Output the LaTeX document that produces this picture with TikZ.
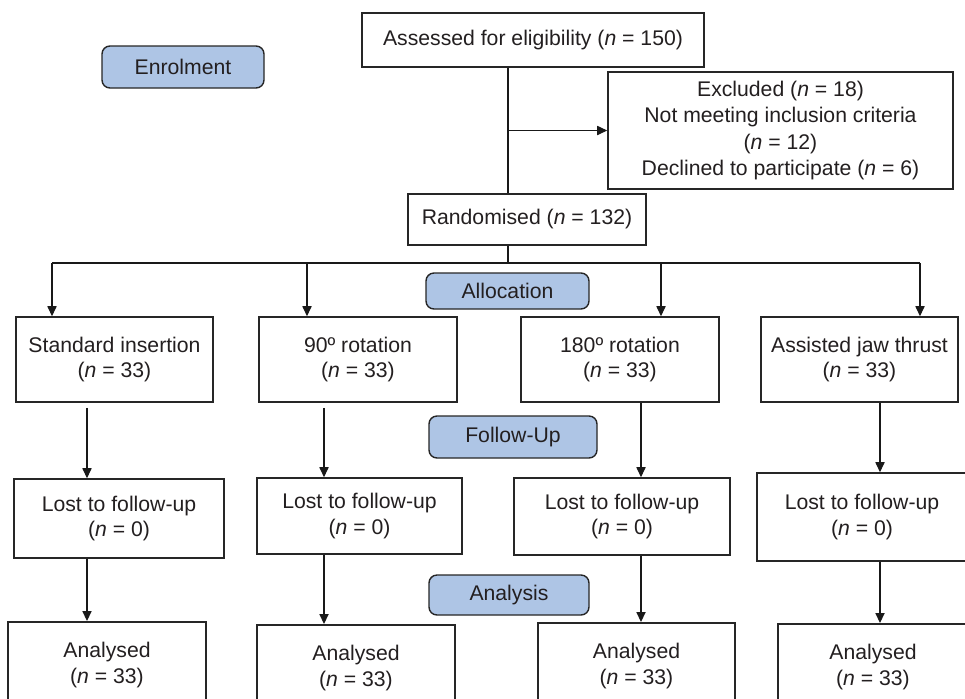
\documentclass[tikz,border=0pt]{standalone}
\usepackage{fontspec}
\setmainfont{Liberation Sans}
\usetikzlibrary{arrows.meta}
\definecolor{txtgray}{RGB}{35,31,32}
\definecolor{stagefill}{RGB}{174,197,229}

\begin{document}
\begin{tikzpicture}[x=0.5pt,y=-0.5pt,
  every node/.style={font=\fontsize{10.6}{12.8}\selectfont,text=txtgray},
  flowbox/.style={draw=black!85,line width=0.8pt,fill=white,align=center,inner sep=0pt},
  stage/.style={draw=black!85,line width=0.7pt,fill=stagefill,rounded corners=4pt,inner sep=0pt},
  link/.style={draw=black!90,line width=0.55pt},
  arr/.style={link,-{Triangle[length=5pt,width=4.6pt]}}]
\path[use as bounding box,clip] (0,0) rectangle (965,698);

\node[stage,minimum width=81pt,minimum height=21pt] (enrol) at (183,67) {Enrolment};
\node[stage,minimum width=81.5pt,minimum height=18pt] (alloc) at (507.5,291) {Allocation};
\node[stage,minimum width=84pt,minimum height=21pt] (follow) at (513,437) {Follow-Up};
\node[stage,minimum width=80pt,minimum height=20pt] (analysis) at (509,595) {Analysis};

\node[flowbox,minimum width=171pt,minimum height=27pt] (assess) at (533,40) {Assessed for eligibility (\textit{n} = 150)};
\node[flowbox,minimum width=172.5pt,minimum height=58.5pt,font=\fontsize{10.6}{13.3}\selectfont] (excl) at (780.5,130.5)
  {Excluded (\textit{n} = 18)\\ Not meeting inclusion criteria\\ (\textit{n} = 12)\\ Declined to participate (\textit{n} = 6)};
\node[flowbox,minimum width=119pt,minimum height=25.5pt] (rand) at (527,219.5) {Randomised (\textit{n} = 132)};

\node[flowbox,minimum width=98.5pt,minimum height=42.5pt] (top1) at (114.5,359.5) {Standard insertion\\ (\textit{n} = 33)};
\node[flowbox,minimum width=99pt,minimum height=42.5pt] (top2) at (358,359.5) {90º rotation\\ (\textit{n} = 33)};
\node[flowbox,minimum width=99pt,minimum height=42.5pt] (top3) at (620,359.5) {180º rotation\\ (\textit{n} = 33)};
\node[flowbox,minimum width=98.5pt,minimum height=42.5pt] (top4) at (859.5,359.5) {Assisted jaw thrust\\ (\textit{n} = 33)};

\node[flowbox,minimum width=105pt,minimum height=39.5pt] (lost1) at (119,518.5) {Lost to follow-up\\ (\textit{n} = 0)};
\node[flowbox,minimum width=102.5pt,minimum height=38pt] (lost2) at (359.5,516) {Lost to follow-up\\ (\textit{n} = 0)};
\node[flowbox,minimum width=108pt,minimum height=38.5pt] (lost3) at (622,516.5) {Lost to follow-up\\ (\textit{n} = 0)};
\node[flowbox,minimum width=105pt,minimum height=44pt] (lost4) at (862,517) {Lost to follow-up\\ (\textit{n} = 0)};

\node[flowbox,anchor=north,minimum width=99pt,minimum height=43pt] (done1) at (107,621) {Analysed\\ (\textit{n} = 33)};
\node[flowbox,anchor=north,minimum width=99pt,minimum height=43pt] (done2) at (356,624) {Analysed\\ (\textit{n} = 33)};
\node[flowbox,anchor=north,minimum width=98.5pt,minimum height=43pt] (done3) at (636.5,622) {Analysed\\ (\textit{n} = 33)};
\node[flowbox,anchor=north,minimum width=95pt,minimum height=43pt] (done4) at (873,623) {Analysed\\ (\textit{n} = 33)};

\coordinate (trunk) at (508,0);
\coordinate (split) at (508,263);
\draw[link] (assess.south -| trunk) -- (rand.north -| trunk);
\draw[arr] (excl.west -| trunk) -- (excl.west);
\draw[link] (rand.south -| trunk) -- (split);

\coordinate (b1) at (52,263);
\coordinate (b2) at (307,263);
\coordinate (b3) at (661,263);
\coordinate (b4) at (920,263);
\draw[link] (b1) -- (b4);
\foreach \c in {1,...,4}
  \draw[arr] (b\c) -- (top\c.north -| b\c);

\foreach \c/\x/\gap in {1/87/2.5pt,2/324/2.5pt,3/641/0pt,4/880/0pt}{
  \coordinate (x\c) at (\x,0);
  \draw[arr,shorten <=\gap] (top\c.south -| x\c) -- (lost\c.north -| x\c);
  \draw[arr] (lost\c.south -| x\c) -- (done\c.north -| x\c);
}

\end{tikzpicture}
\end{document}
